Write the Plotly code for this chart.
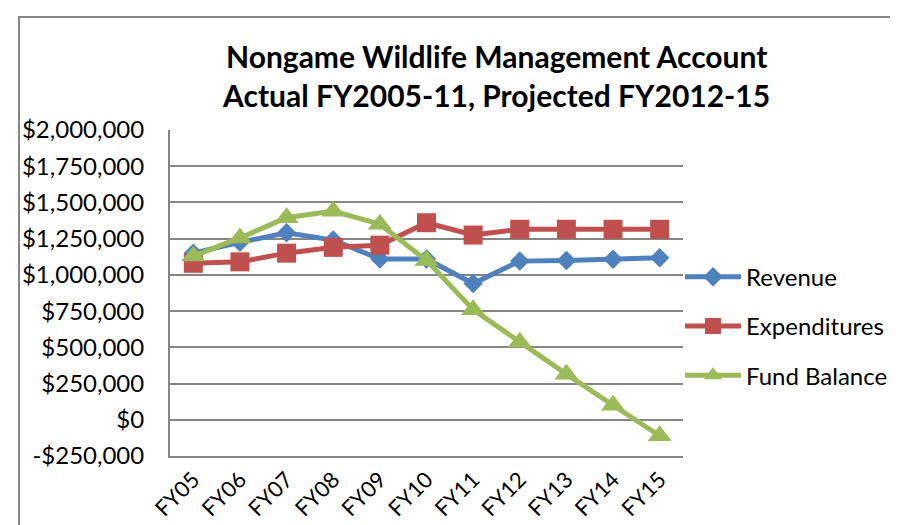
import plotly.graph_objects as go

categories = ["FY05", "FY06", "FY07", "FY08", "FY09", "FY10", "FY11", "FY12", "FY13", "FY14", "FY15"]
revenue = [1150000, 1225000, 1290000, 1240000, 1110000, 1110000, 940000, 1095000, 1100000, 1108000, 1118000]
expenditures = [1080000, 1090000, 1150000, 1190000, 1205000, 1360000, 1275000, 1315000, 1315000, 1315000, 1315000]
fund_balance = [1130000, 1255000, 1395000, 1440000, 1350000, 1100000, 760000, 535000, 315000, 100000, -110000]

y_tickvals = [-250000, 0, 250000, 500000, 750000, 1000000, 1250000, 1500000, 1750000, 2000000]
y_ticktext = ["-$250,000", "$0", "$250,000", "$500,000", "$750,000", "$1,000,000",
              "$1,250,000", "$1,500,000", "$1,750,000", "$2,000,000"]

title_line1 = "Nongame Wildlife Management Account"
title_line2 = "Actual FY2005-11, Projected FY2012-15"

FONT = "Lato"
W, H = 898, 525
L, R, T, B = 162, 675, 122, 451

fig = go.Figure()
series = [
    ("Revenue", revenue, "#4F81BD", "diamond", 15),
    ("Expenditures", expenditures, "#C0504D", "square", 19),
    ("Fund Balance", fund_balance, "#9BBB59", "triangle-up", 21),
]
for name, vals, color, sym, size in series:
    fig.add_trace(go.Scatter(
        x=categories, y=vals, name=name, mode="lines+markers",
        line=dict(color=color, width=5),
        marker=dict(symbol=sym, size=size, color=color),
        legendgroup=name,
    ))

def px_x(p):
    return (p - L) / (R - L)

def px_y(p):
    return (B - p) / (B - T)

fig.update_layout(
    width=W, height=H,
    margin=dict(l=L, r=W - R, t=T, b=H - B, pad=0),
    paper_bgcolor="white", plot_bgcolor="white",
    font=dict(family=FONT, color="black"),
    showlegend=True,
    legend=dict(
        x=px_x(672), y=px_y(320), xanchor="left", yanchor="middle",
        font=dict(size=24, family=FONT), tracegroupgap=15,
        itemwidth=56,
        bgcolor="rgba(0,0,0,0)",
    ),
    xaxis=dict(
        type="category", range=[-0.5, 10.5],
        showgrid=False, showline=True, linecolor="#868686", linewidth=2,
        ticks="", tickangle=-45, tickfont=dict(size=22, family=FONT),
        zeroline=False,
    ),
    yaxis=dict(
        range=[-250000, 2000000], tickvals=y_tickvals, ticktext=y_ticktext,
        showgrid=True, gridcolor="#868686", gridwidth=2,
        showline=True, linecolor="#868686", linewidth=2, mirror=False,
        ticks="", tickfont=dict(size=24, family=FONT), zeroline=False,
        ticklabelstandoff=19,
    ),
    annotations=[
        dict(text="<b>" + title_line1 + "</b>", xref="paper", yref="paper",
             x=px_x(488), y=px_y(47), xanchor="center", yanchor="middle",
             showarrow=False, font=dict(size=30, family=FONT)),
        dict(text="<b>" + title_line2 + "</b>", xref="paper", yref="paper",
             x=px_x(488), y=px_y(87), xanchor="center", yanchor="middle",
             showarrow=False, font=dict(size=30, family=FONT)),
    ],
    shapes=[
        dict(type="rect", xref="paper", yref="paper",
             x0=px_x(11), x1=px_x(893), y0=px_y(540), y1=px_y(8),
             line=dict(color="#868686", width=2), layer="below"),
    ],
)

fig.write_html("out.html")
